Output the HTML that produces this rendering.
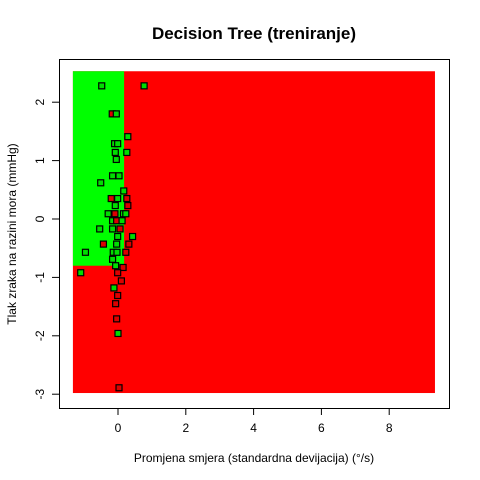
<!DOCTYPE html>
<html><head><meta charset="utf-8"><style>body{margin:0;background:#fff}svg{display:block;font-family:"Liberation Sans",sans-serif}</style></head>
<body>
<svg id="c" width="480" height="480"></svg>
<script>
const xTicks=[0,2,4,6,8];
const yTicks=[2,1,0,-1,-2,-3];
const regionRed=[-1.33,9.35,-2.98,2.53];
const regionGreen=[-1.33,0.18,-0.80,2.53];
const px=[-0.48,0.77,-0.17,-0.05,0.29,-0.10,-0.01,-0.08,0.26,-0.05,-0.16,0.03,-0.51,0.17,-0.20,-0.01,0.26,-0.08,0.29,-0.29,-0.09,0.16,0.23,-0.16,-0.04,0.12,-0.54,-0.16,0.06,-0.01,0.43,-0.43,-0.04,0.32,-0.96,-0.14,-0.03,0.23,-0.16,-0.07,0.15,-1.10,-0.01,0.10,-0.12,-0.01,-0.07,-0.04,0.00,0.03];
const py=[2.28,2.28,1.80,1.80,1.41,1.29,1.29,1.14,1.14,1.02,0.74,0.74,0.62,0.48,0.35,0.35,0.35,0.23,0.23,0.09,0.09,0.09,0.09,-0.03,-0.03,-0.03,-0.17,-0.17,-0.17,-0.30,-0.30,-0.43,-0.43,-0.43,-0.57,-0.57,-0.57,-0.57,-0.69,-0.80,-0.83,-0.92,-0.92,-1.06,-1.18,-1.31,-1.45,-1.71,-1.96,-2.89];
const pc=["g","g","r","g","g","g","g","g","g","g","g","g","g","g","r","g","r","g","r","g","r","g","g","g","r","g","g","g","r","g","g","r","g","r","g","g","g","r","g","g","r","g","r","r","g","r","r","r","g","r"];
const NS="http://www.w3.org/2000/svg",s=document.getElementById('c');
const X=v=>118+v*33.9, Y=v=>219-v*58.4;
function mk(t,a,p){const e=document.createElementNS(NS,t);for(const k in a)e.setAttribute(k,a[k]);(p||s).appendChild(e);return e;}
let e;
e=mk('rect',{x:X(regionRed[0]),y:Y(regionRed[3]),width:X(regionRed[1])-X(regionRed[0]),height:Y(regionRed[2])-Y(regionRed[3]),fill:'#ff0000'});

e=mk('rect',{x:X(regionGreen[0]),y:Y(regionGreen[3]),width:X(regionGreen[1])-X(regionGreen[0]),height:Y(regionGreen[2])-Y(regionGreen[3]),fill:'#00ff00'});

for(let i=0;i<px.length;i++){e=mk('rect',{x:X(px[i])-3,y:Y(py[i])-3,width:6,height:6,fill:pc[i]=='g'?'#00dd00':'#dd0000',stroke:'#000','stroke-width':1.2});
}
e=mk('rect',{x:59.5,y:59.5,width:390,height:349,fill:'none',stroke:'#000'});

xTicks.forEach(t=>{mk('line',{x1:X(t),x2:X(t),y1:408,y2:415,stroke:'#000'});
e=mk('text',{x:X(t),y:432,'text-anchor':'middle','font-size':12});e.textContent=t;
});
yTicks.forEach(t=>{mk('line',{x1:52,x2:59,y1:Y(t),y2:Y(t),stroke:'#000'});
e=mk('text',{x:0,y:0,'text-anchor':'middle','font-size':12,transform:`translate(44,${Y(t)}) rotate(-90)`});e.textContent=t;
});
e=mk('text',{x:254,y:39,'text-anchor':'middle','font-size':17,'font-weight':'bold'});e.textContent='Decision Tree (treniranje)';

e=mk('text',{x:254,y:462,'text-anchor':'middle','font-size':12});e.textContent='Promjena smjera (standardna devijacija) (°/s)';

e=mk('text',{x:0,y:0,'text-anchor':'middle','font-size':12,transform:'translate(16,234) rotate(-90)'});e.textContent='Tlak zraka na razini mora (mmHg)';

</script>
</body></html>
